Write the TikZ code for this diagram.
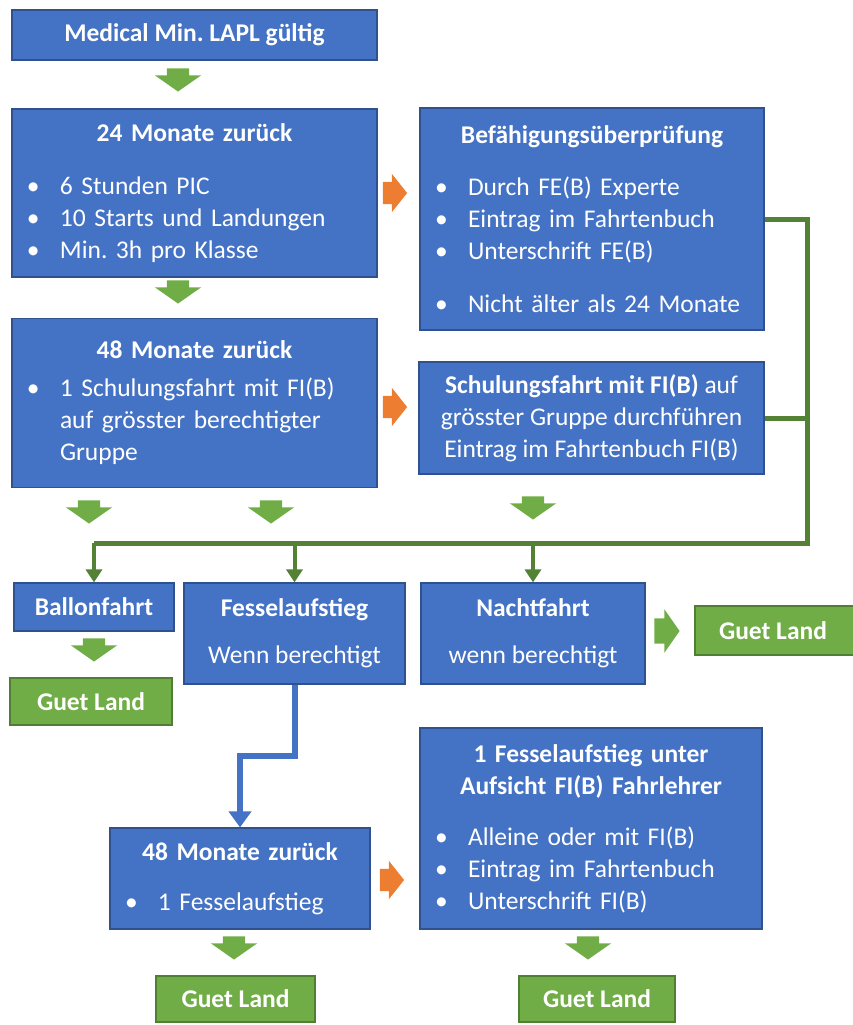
\documentclass[tikz,border=0pt]{standalone}
\usepackage{fontspec}
\setmainfont{Carlito}
\usetikzlibrary{shapes.arrows,arrows.meta}

\definecolor{boxblau}{HTML}{4472C4}
\definecolor{boxrand}{HTML}{2F528F}
\definecolor{zielgruen}{HTML}{70AD47}
\definecolor{zielrand}{HTML}{507E32}
\definecolor{liniengruen}{HTML}{548235}
\definecolor{pfeilorange}{HTML}{ED7D31}

\newcommand{\grtxt}{\fontsize{25.5}{32}\selectfont\frenchspacing}
\newcommand{\pkt}[1]{\par\noindent\makebox[33pt][l]{\textbullet}\parbox[t]{\dimexpr\hsize-33pt\relax}{\raggedright #1}}
\newcommand{\titel}[1]{\centerline{\bfseries #1}\par}

\tikzset{
  box/.style={draw=boxrand, fill=boxblau, line width=1.2pt, text=white, inner sep=0pt, font=\grtxt},
  liste/.style={box, align=left, inner xsep=15pt},
  ziel/.style={draw=zielrand, fill=zielgruen, line width=1.2pt, text=white, font=\grtxt\bfseries,
    minimum width=160pt, minimum height=47pt},
  pfeilab/.style={single arrow, rotate=-90, fill=zielgruen, inner xsep=7.5pt, inner ysep=11pt,
    single arrow head extend=12pt, single arrow tip angle=110},
  pfeilre/.style={single arrow, fill=pfeilorange, inner xsep=7.5pt, inner ysep=11pt,
    single arrow head extend=8pt, single arrow tip angle=103},
  bus/.style={draw=liniengruen, line width=5pt},
  busab/.style={draw=liniengruen, line width=4pt, -{Triangle[length=13pt,width=16pt]}},
  blauweg/.style={draw=boxblau, line width=6pt, -{Triangle[length=16pt,width=22pt]}}
}

\begin{document}
\begin{tikzpicture}[x=1pt,y=-1pt]
  \useasboundingbox (0,0) rectangle (852,1025);

  % blaue Kaesten
  \node[box, font=\grtxt\bfseries, minimum width=365pt, minimum height=50pt] (med) at (194.5,35) {Medical Min. LAPL gültig};
  \node[liste, text width=335pt, minimum height=168pt] (m24) at (194.5,193)
    {\titel{24 Monate zurück}\vspace{21pt}\pkt{6 Stunden PIC}\pkt{10 Starts und Landungen}\pkt{Min. 3h pro Klasse}};
  \node[liste, text width=314pt, minimum height=222pt] (bef) at (592,219)
    {\titel{Befähigungsüberprüfung}\vspace{20pt}\pkt{Durch FE(B) Experte}\pkt{Eintrag im Fahrtenbuch}\pkt{Unterschrift FE(B)}\par\vspace{21pt}\pkt{Nicht älter als 24 Monate}};
  \node[liste, text width=335pt, minimum height=169pt] (m48) at (194.5,403)
    {\titel{48 Monate zurück}\vspace{6pt}\pkt{1 Schulungsfahrt mit FI(B)\\auf grösster berechtigter\\Gruppe}};
  \node[box, align=center, minimum width=345pt, minimum height=112pt] (schul) at (591.5,418)
    {\textbf{Schulungsfahrt mit FI(B)} auf\\grösster Gruppe durchführen\\Eintrag im Fahrtenbuch FI(B)};
  \node[box, font=\grtxt\bfseries, minimum width=160pt, minimum height=48pt] (ballon) at (94,607) {Ballonfahrt};
  \node[box, align=center, minimum width=221pt, minimum height=101pt] (fessel) at (294.5,633.5)
    {\textbf{Fesselaufstieg}\\[15pt]Wenn berechtigt};
  \node[box, align=center, minimum width=224pt, minimum height=101pt] (nacht) at (533,633.5)
    {\textbf{Nachtfahrt}\\[15pt]wenn berechtigt};
  \node[liste, text width=230pt, minimum height=101pt] (m48b) at (240,878.5)
    {\titel{48 Monate zurück}\vspace{18pt}\pkt{1 Fesselaufstieg}};
  \node[liste, text width=312pt, minimum height=201pt] (auf) at (591,828.5)
    {\titel{1 Fesselaufstieg unter}\titel{Aufsicht FI(B) Fahrlehrer}\vspace{19pt}\pkt{Alleine oder mit FI(B)}\pkt{Eintrag im Fahrtenbuch}\pkt{Unterschrift FI(B)}};

  % gruene Kaesten
  \node[ziel, minimum width=162pt] (land1) at (91,701.5) {Guet Land};
  \node[ziel, minimum width=162pt, minimum height=49pt] (land2) at (776,630.5) {\hspace*{-6pt}Guet Land};
  \node[ziel, minimum width=159pt, minimum height=46pt] (land3) at (235.5,999) {Guet Land};
  \node[ziel, minimum width=156pt, minimum height=46pt] (land4) at (597,999) {Guet Land};

  % Blockpfeile
  \node[pfeilab] (p1) at (178,76) {};
  \node[pfeilab] (p2) at (178,288) {};
  \node[pfeilab] (p3) at (89,508) {};
  \node[pfeilab] (p4) at (271,508) {};
  \node[pfeilab] (p5) at (533,504) {};
  \node[pfeilab] (p6) at (94,646) {};
  \node[pfeilab] (p7) at (234,944) {};
  \node[pfeilab] (p8) at (588,944) {};
  \node[pfeilre] (o1) at (390.5,193) {};
  \node[pfeilre] (o2) at (390.5,407) {};
  \node[pfeilre] (o3) at (387.5,880) {};
  \node[pfeilre, fill=zielgruen, inner xsep=8pt, inner ysep=12.5pt, single arrow head extend=9pt,
    single arrow tip angle=110] (p9) at (662.5,631) {};

  % Verbindungen
  \coordinate (busR) at (807,543);
  \coordinate (busL) at (94,543);
  \draw[bus] (bef.east) -| (busR) -- (busL);
  \draw[bus] (schul.east) -- (schul.east -| busR);
  \draw[busab] (busL) -- (ballon.north);
  \draw[busab] (fessel.north |- busL) -- (fessel.north);
  \draw[busab] (nacht.north |- busL) -- (nacht.north);
  \draw[blauweg] (fessel.south) -- ++(0,71) -| (m48b.north);
\end{tikzpicture}
\end{document}
